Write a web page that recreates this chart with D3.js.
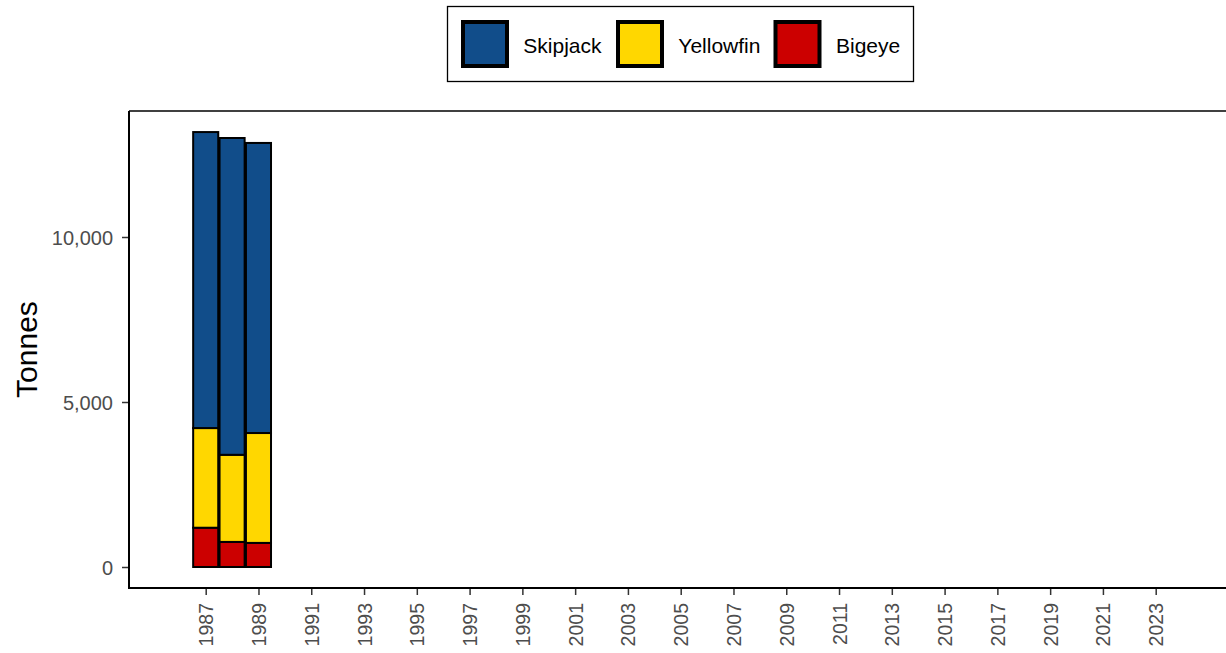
<!DOCTYPE html>
<html><head><meta charset="utf-8">
<script src="https://cdn.jsdelivr.net/npm/d3@7"></script>
<style>body{margin:0;background:#fff;} svg{display:block;font-family:"Liberation Sans",Arial,sans-serif;}</style>
</head><body>
<svg id="c" width="1226" height="653"></svg>
<script>
const years = [1987, 1988, 1989];
const bigeye = [1190, 760, 730];
const yellowfin = [3020, 2640, 3330];
const skipjack = [8970, 9600, 8790];
const species = ["Skipjack", "Yellowfin", "Bigeye"];
const colors = ["#114d8a", "#ffd700", "#cc0000"];
const yTicks = [0, 5000, 10000];
const xTicks = d3.range(1987, 2024, 2);

const svg = d3.select("#c");
const FF = "Liberation Sans, Arial, sans-serif";
const L = 129, R = 1226, T = 111, B = 588;
const x = d3.scaleLinear().domain([1987, 2023]).range([205.7, 1155.7]);
const y = d3.scaleLinear().domain([0, 10000]).range([567, 237]);

const rows = years.map((yr, i) => ({year: yr, Bigeye: bigeye[i], Yellowfin: yellowfin[i], Skipjack: skipjack[i]}));
const stack = d3.stack().keys(["Bigeye", "Yellowfin", "Skipjack"])(rows);
const colorOf = {Skipjack: colors[0], Yellowfin: colors[1], Bigeye: colors[2]};
const bw = (x(1988) - x(1987)) * 0.95;

// panel top line
svg.append("line").attr("x1", L).attr("x2", R).attr("y1", T).attr("y2", T).attr("stroke", "#000").attr("stroke-width", 1.5);

stack.forEach(layer => {
  svg.append("g").selectAll("rect").data(layer).join("rect")
    .attr("x", d => x(d.data.year) - bw / 2)
    .attr("width", bw)
    .attr("y", d => y(d[1]))
    .attr("height", d => y(d[0]) - y(d[1]))
    .attr("fill", colorOf[layer.key])
    .attr("stroke", "#000").attr("stroke-width", 2);
});

// y axis
const ya = svg.append("g").attr("transform", `translate(${L},0)`)
  .call(d3.axisLeft(y).tickValues(yTicks).tickFormat(d3.format(",")).tickSize(7).tickPadding(9));
ya.select(".domain").remove();
ya.selectAll(".tick line").attr("stroke", "#333").attr("stroke-width", 1.5);
ya.selectAll(".tick text").attr("fill", "#4d4d4d").attr("font-size", 20).attr("font-family", FF).attr("dy", "0.36em");
svg.append("line").attr("x1", L).attr("x2", L).attr("y1", T).attr("y2", B + 1).attr("stroke", "#000").attr("stroke-width", 2);

// x axis
const xa = svg.append("g").attr("transform", `translate(0,${B})`)
  .call(d3.axisBottom(x).tickValues(xTicks).tickFormat(d3.format("d")).tickSize(7).tickPadding(8));
xa.select(".domain").remove();
xa.selectAll(".tick line").attr("stroke", "#333").attr("stroke-width", 1.5);
xa.selectAll(".tick text").attr("fill", "#4d4d4d").attr("font-size", 19.5).attr("font-family", FF)
  .attr("transform", "rotate(-90)").attr("text-anchor", "end").attr("x", -15).attr("y", 0).attr("dy", "0.36em");
svg.append("line").attr("x1", L - 1).attr("x2", R).attr("y1", B).attr("y2", B).attr("stroke", "#000").attr("stroke-width", 2);

// y title
svg.append("text").attr("transform", `translate(26,${(T + B) / 2}) rotate(-90)`)
  .attr("text-anchor", "middle").attr("dy", "0.36em").attr("font-family", FF)
  .attr("font-size", 30).attr("fill", "#000").text("Tonnes");

// legend
const lg = svg.append("g");
lg.append("rect").attr("x", 447.5).attr("y", 6.5).attr("width", 466).attr("height", 75)
  .attr("fill", "#fff").attr("stroke", "#000").attr("stroke-width", 1.3);
const keyCx = [485, 640, 797.5];
const textX = [523.3, 678.3, 836];
species.forEach((s, i) => {
  lg.append("rect").attr("x", keyCx[i] - 22).attr("y", 22).attr("width", 44).attr("height", 44)
    .attr("fill", colors[i]).attr("stroke", "#000").attr("stroke-width", 4);
  lg.append("text").attr("x", textX[i]).attr("y", 52.5).attr("font-family", FF)
    .attr("font-size", 21).attr("fill", "#000").text(s);
});
</script>
</body></html>
